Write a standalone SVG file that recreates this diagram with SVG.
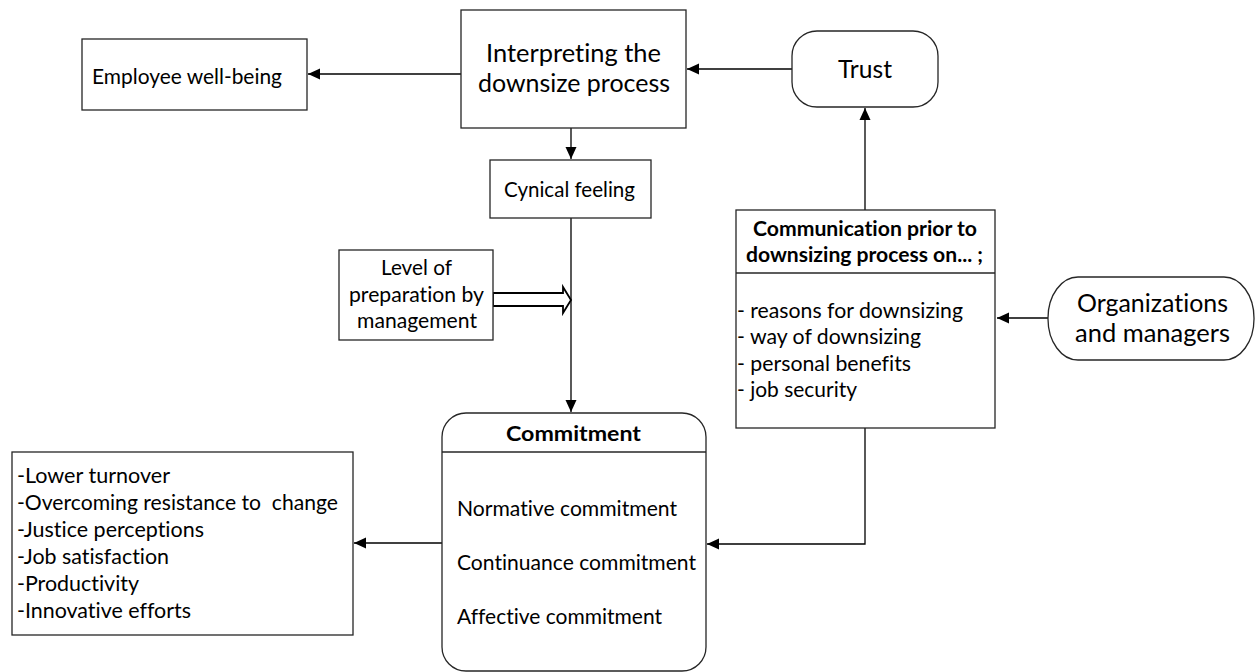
<svg xmlns="http://www.w3.org/2000/svg" width="1255" height="672" viewBox="0 0 1255 672">
  <defs>
    <style>
      .box { fill: #ffffff; stroke: #262626; stroke-width: 1.3; }
      .wire { fill: none; stroke: #000000; stroke-width: 1.3; }
      .t { font-family: "Lato", "Liberation Sans", sans-serif; fill: #000000; font-variant-ligatures: none; font-feature-settings: "liga" 0, "clig" 0; }
      .big { font-size: 25px; }
      .mid { font-size: 20.5px; }
      .bold { font-weight: bold; }
      .pre { white-space: pre; }
    </style>
    <marker id="arrow" markerUnits="userSpaceOnUse" markerWidth="13" markerHeight="12" refX="12" refY="6" orient="auto">
      <path d="M0,0.5 L12,6 L0,11.5 Z" fill="#000000"/>
    </marker>
  </defs>

  <rect width="1255" height="672" fill="#ffffff"/>

  <!-- connectors -->
  <g id="connectors">
    <line class="wire" x1="461" y1="74" x2="308" y2="74" marker-end="url(#arrow)"/>
    <line class="wire" x1="792" y1="69" x2="687" y2="69" marker-end="url(#arrow)"/>
    <line class="wire" x1="571" y1="128" x2="571" y2="159" marker-end="url(#arrow)"/>
    <line class="wire" x1="571" y1="218" x2="571" y2="412" marker-end="url(#arrow)"/>
    <line class="wire" x1="865" y1="210" x2="865" y2="108" marker-end="url(#arrow)"/>
    <line class="wire" x1="1048" y1="318" x2="997" y2="318" marker-end="url(#arrow)"/>
    <polyline class="wire" points="865,428 865,544 707,544" marker-end="url(#arrow)"/>
    <line class="wire" x1="442" y1="543" x2="354" y2="543" marker-end="url(#arrow)"/>
    <!-- hollow block arrow from the preparation box -->
    <polygon points="493,293 563,293 563,287 571,300 563,313 563,306 493,306" fill="#ffffff" stroke="#000000" stroke-width="1.8" stroke-linejoin="miter"/>
  </g>

  <g id="employee-wellbeing">
    <rect class="box" x="82" y="39" width="225" height="71"/>
    <text class="t mid" x="92" y="84" textLength="190" lengthAdjust="spacingAndGlyphs">Employee well-being</text>
  </g>

  <g id="interpreting">
    <rect class="box" x="461" y="10" width="225" height="118"/>
    <text class="t big" x="486" y="62" textLength="175" lengthAdjust="spacingAndGlyphs">Interpreting the</text>
    <text class="t big" x="478" y="92" textLength="192" lengthAdjust="spacingAndGlyphs">downsize process</text>
  </g>

  <g id="trust">
    <rect class="box" x="792" y="31" width="146" height="76" rx="25" ry="25"/>
    <text class="t big" x="838" y="78" textLength="54" lengthAdjust="spacingAndGlyphs">Trust</text>
  </g>

  <g id="cynical-feeling">
    <rect class="box" x="490" y="160" width="161" height="58"/>
    <text class="t mid" x="504" y="197" textLength="131" lengthAdjust="spacingAndGlyphs">Cynical feeling</text>
  </g>

  <g id="preparation">
    <rect class="box" x="339" y="250" width="154" height="90"/>
    <text class="t mid" x="381" y="275" textLength="71" lengthAdjust="spacingAndGlyphs">Level of</text>
    <text class="t mid" x="349" y="302" textLength="135" lengthAdjust="spacingAndGlyphs">preparation by</text>
    <text class="t mid" x="357" y="328" textLength="120" lengthAdjust="spacingAndGlyphs">management</text>
  </g>

  <g id="communication">
    <rect class="box" x="736" y="210" width="259" height="218"/>
    <line class="box" x1="736" y1="273" x2="995" y2="273"/>
    <text class="t mid bold" x="753" y="236" textLength="224" lengthAdjust="spacingAndGlyphs">Communication prior to</text>
    <text class="t mid bold" x="746" y="262" textLength="237" lengthAdjust="spacingAndGlyphs">downsizing process on... ;</text>
    <text class="t mid" x="737" y="318" textLength="226" lengthAdjust="spacingAndGlyphs">- reasons for downsizing</text>
    <text class="t mid" x="737" y="344" textLength="184" lengthAdjust="spacingAndGlyphs">- way of downsizing</text>
    <text class="t mid" x="737" y="371" textLength="174" lengthAdjust="spacingAndGlyphs">- personal benefits</text>
    <text class="t mid" x="737" y="397" textLength="120" lengthAdjust="spacingAndGlyphs">- job security</text>
  </g>

  <g id="organizations">
    <rect class="box" x="1048" y="277" width="206" height="83" rx="30" ry="41"/>
    <text class="t big" x="1077" y="312" textLength="151" lengthAdjust="spacingAndGlyphs">Organizations</text>
    <text class="t big" x="1075" y="342" textLength="155" lengthAdjust="spacingAndGlyphs">and managers</text>
  </g>

  <g id="commitment">
    <rect class="box" x="442" y="413" width="264" height="258" rx="24" ry="24"/>
    <line class="box" x1="442" y1="452" x2="706" y2="452"/>
    <text class="t mid bold" x="506" y="441" textLength="135" lengthAdjust="spacingAndGlyphs">Commitment</text>
    <text class="t mid" x="457" y="516" textLength="220" lengthAdjust="spacingAndGlyphs">Normative commitment</text>
    <text class="t mid" x="457" y="570" textLength="239" lengthAdjust="spacingAndGlyphs">Continuance commitment</text>
    <text class="t mid" x="457" y="624" textLength="205" lengthAdjust="spacingAndGlyphs">Affective commitment</text>
  </g>

  <g id="outcomes">
    <rect class="box" x="12" y="452" width="341" height="183"/>
    <text class="t mid" x="17" y="483" textLength="153" lengthAdjust="spacingAndGlyphs">-Lower turnover</text>
    <text class="t mid pre" x="17" y="510" textLength="321" lengthAdjust="spacingAndGlyphs" xml:space="preserve">-Overcoming resistance to  change</text>
    <text class="t mid" x="17" y="537" textLength="187" lengthAdjust="spacingAndGlyphs">-Justice perceptions</text>
    <text class="t mid" x="17" y="564" textLength="152" lengthAdjust="spacingAndGlyphs">-Job satisfaction</text>
    <text class="t mid" x="17" y="591" textLength="122" lengthAdjust="spacingAndGlyphs">-Productivity</text>
    <text class="t mid" x="17" y="618" textLength="174" lengthAdjust="spacingAndGlyphs">-Innovative efforts</text>
  </g>
</svg>
